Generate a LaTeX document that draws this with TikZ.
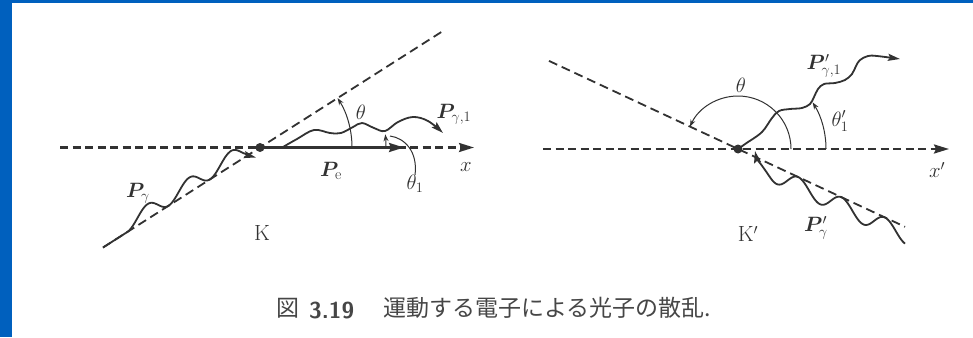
\documentclass[tikz,border=0pt]{standalone}
\usepackage{fontspec}
\usepackage{amsmath}
\usepackage{bm}
\newfontfamily\cjk{Noto Sans CJK JP}
\usetikzlibrary{arrows.meta}
\definecolor{frameblue}{RGB}{0,96,190}
\definecolor{ink}{RGB}{50,50,50}
\definecolor{captink}{RGB}{70,70,70}
\begin{document}
\begin{tikzpicture}[x=1pt,y=-1pt,
  axisdash/.style={draw=ink, line width=2.4pt, dash pattern=on 8pt off 4.5pt},
  slantdash/.style={draw=ink, line width=1.8pt, dash pattern=on 9pt off 5pt},
  photon/.style={draw=ink, line width=1.8pt},
  angarc/.style={draw=ink, line width=1pt, -{Stealth[length=7pt,width=5pt]}},
  bigtip/.style={-{Stealth[length=15pt,width=9pt,inset=2pt]}},
  phtip/.style={-{Stealth[length=12pt,width=7pt,inset=2pt]}},
  lab/.style={text=ink, font=\fontsize{22}{26}\selectfont, inner sep=0pt},
  dotstyle/.style={circle, fill=ink, inner sep=0pt, minimum size=9pt},
  capjp/.style={text=captink, font=\cjk\fontsize{23}{26}\selectfont, inner sep=0pt, anchor=base west},
  capnum/.style={text=captink, font=\sffamily\bfseries\fontsize{23}{26}\selectfont, inner sep=0pt, anchor=base west}
]
\useasboundingbox (0,0) rectangle (973,337);
\fill[white] (0,0) rectangle (973,337);
\fill[frameblue] (0,0) rectangle (973,3.5);
\fill[frameblue] (0,0) rectangle (12,337);

% ---------------- left diagram (K) ----------------
\coordinate (D) at (260,147.5);
\coordinate (axL) at (60,147.5);
\coordinate (axR) at (474,147.5);
\coordinate (upR) at (442,31.6);
\coordinate (lowL) at (103,247.5);
\coordinate (PeEnd) at (404,147.5);
\coordinate (PgTip) at (256,157.5);

\draw[axisdash, bigtip] (axL) -- (axR);
\draw[slantdash] (lowL) -- (upR);
\draw[ink, line width=2.6pt, bigtip] (D) -- (PeEnd);

% angle arcs
\draw[angarc] (D) ++(92,0) arc[start angle=0, end angle=32.5, radius=92pt];
\draw[angarc] (D) ++(126,0) arc[start angle=0, end angle=6, radius=126pt];

% incoming photon
\draw[photon, phtip] (lowL) -- plot[domain=127:245, samples=120]
  (\x, {147.5+0.637*(260-\x) - 7.5*(1-cos(8.6747*(\x-127)))})
  .. controls (249,155) and (252,156.5) .. (PgTip);

% scattered photon
\draw[photon, phtip] (D) -- plot[smooth, tension=0.6] coordinates {
  (283,147) (297,139) (314,130) (330,133) (341,133) (353,127) (362,123)
  (374,128) (385,131) (398,122) (413,117) (428,121) (443,133)};

\node[dotstyle] (e) at (D) {};

% labels
\node[lab] (Pg) at (138,193) {$\bm{P}_{\gamma}$};
\node[lab] (Pe) at (331,171) {$\bm{P}_{\mathrm{e}}$};
\node[lab] (Pg1) at (454,114) {$\bm{P}_{\gamma,1}$};
\node[lab] (xl) at (466,167) {$x$};
\node[lab] (th) at (361,112) {$\theta$};
\node[lab] (th1) at (415,184) {$\theta_1$};
\node[lab] (K) at (262,233) {K};
\draw[ink, line width=1pt] (th1.north) .. controls (418,152) and (405,138) .. (390,136);

% ---------------- right diagram (K') ----------------
\coordinate (D2) at (738,149);
\coordinate (axL2) at (543,149);
\coordinate (axR2) at (949,149);
\coordinate (upL2) at (549,60.9);
\coordinate (lowR2) at (905,226.8);
\coordinate (PgpTip) at (755,151);

\draw[axisdash, bigtip] (axL2) -- (axR2);
\draw[slantdash] (upL2) -- (lowR2);

\draw[angarc] (D2) ++(53,0) arc[start angle=0, end angle=155, radius=53pt];
\draw[angarc] (D2) ++(88,0) arc[start angle=0, end angle=32, radius=88pt];

% incoming photon
\draw[photon, phtip] plot[domain=905:770, samples=120]
  (\x, {149+0.466*(\x-738) + 8.5*(1-cos(8.314*(\x-755)))})
  .. controls (763,166.8) and (756.5,158) .. (PgpTip);

% scattered photon
\draw[photon, phtip] (D2) -- plot[smooth, tension=0.6] coordinates {
  (748,142) (762,132) (772,118) (779,111) (790,109) (802,108) (810,104)
  (814,97) (818,89) (824,84) (835,83) (845,80) (852,74) (856,66) (860,60)
  (868,56) (877,56) (900,59)};

\node[dotstyle] (e2) at (D2) {};

\node[lab] (Pg1p) at (824,66) {$\bm{P}'_{\gamma,1}$};
\node[lab] (xlp) at (937,170) {$x'$};
\node[lab] (thp) at (741,85) {$\theta$};
\node[lab] (th1p) at (840,121) {$\theta'_1$};
\node[lab] (Kp) at (748,234) {K$'$};
\node[lab] (Pgp) at (816,228) {$\bm{P}'_{\gamma}$};

% ---------------- caption ----------------
\node[capjp] (fig) at (276,316) {図};
\node[capnum] (num) at (309,318) {3.19};
\node[capjp] (cap) at (383,316) {運動する電子による光子の散乱.};
\end{tikzpicture}
\end{document}
